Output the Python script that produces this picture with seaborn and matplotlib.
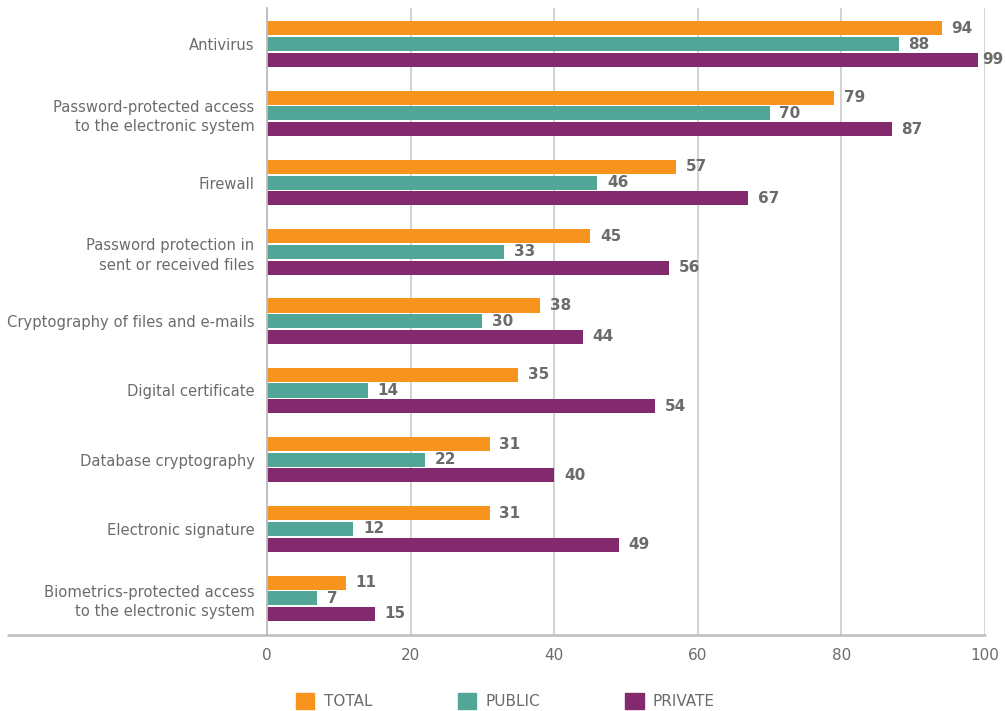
import matplotlib
matplotlib.use("Agg")
import matplotlib.pyplot as plt
import seaborn as sns
import pandas as pd

categories = [
    "Antivirus",
    "Password-protected access\nto the electronic system",
    "Firewall",
    "Password protection in\nsent or received files",
    "Cryptography of files and e-mails",
    "Digital certificate",
    "Database cryptography",
    "Electronic signature",
    "Biometrics-protected access\nto the electronic system",
]
series_names = ["TOTAL", "PUBLIC", "PRIVATE"]
total = [94, 79, 57, 45, 38, 35, 31, 31, 11]
public = [88, 70, 46, 33, 30, 14, 22, 12, 7]
private = [99, 87, 67, 56, 44, 54, 40, 49, 15]
x_ticks = [0, 20, 40, 60, 80, 100]

colors = ["#F7941D", "#52A697", "#832A6E"]
text_grey = "#6b6b6b"
grid_grey = "#cfcfcf"

rows = []
for name, vals in zip(series_names, [total, public, private]):
    for cat, v in zip(categories, vals):
        rows.append({"category": cat, "series": name, "value": v})
df = pd.DataFrame(rows)

sns.set_theme(style="white")
plt.rcParams["font.family"] = ["DejaVu Sans"]

fig = plt.figure(figsize=(10.05, 7.11), dpi=100)
ax = fig.add_axes([267 / 1005, 1 - 635 / 711, 718 / 1005, 627 / 711])

sns.barplot(
    data=df, x="value", y="category", hue="series", orient="h",
    hue_order=series_names, order=categories, palette=colors,
    width=0.68, gap=0.1, saturation=1, ax=ax, legend=False,
    linewidth=0, edgecolor="none",
)

# value labels at the end of each bar; the longest bar gets a tighter gap
for container, vals in zip(ax.containers, [total, public, private]):
    for rect, v in zip(container, vals):
        pad = 3 if v >= 98 else 7
        ax.annotate(f"{v}", xy=(rect.get_width(), rect.get_y() + rect.get_height() / 2),
                    xytext=(pad, 0), textcoords="offset points",
                    ha="left", va="center", fontsize=11, fontweight="bold",
                    color=text_grey, annotation_clip=False)

ax.set_xlim(0, 100)
ax.set_ylim(len(categories) - 0.47, -0.52)
ax.set_xticks(x_ticks)
ax.set_xticklabels([str(t) for t in x_ticks])
ax.set_xlabel("")
ax.set_ylabel("")
ax.grid(axis="x", color=grid_grey, linewidth=1.3)
ax.set_axisbelow(True)
ax.tick_params(axis="both", length=0, colors=text_grey)
ax.tick_params(axis="x", pad=9, labelsize=11)
ax.tick_params(axis="y", pad=9, labelsize=10.6)
for lbl in ax.get_yticklabels():
    lbl.set_linespacing(1.35)

for side in ["top", "right", "bottom"]:
    ax.spines[side].set_visible(False)
ax.spines["left"].set_color("#bdbdbd")
ax.spines["left"].set_linewidth(1.3)
# baseline running under the category labels
ax.plot([-0.361, 1.0], [0, 0], transform=ax.transAxes, clip_on=False,
        color="#bdbdbd", linewidth=1.8, zorder=3)

handles = [plt.Rectangle((0, 0), 1, 1, color=c) for c in colors]
fig.legend(handles, series_names, loc="center", bbox_to_anchor=(0.503, 0.0135),
           ncol=3, frameon=False, fontsize=11, labelcolor=text_grey,
           handlelength=1.2, handleheight=1.2, handletextpad=0.6,
           columnspacing=5.6)

fig.savefig("out.png", dpi=100)
